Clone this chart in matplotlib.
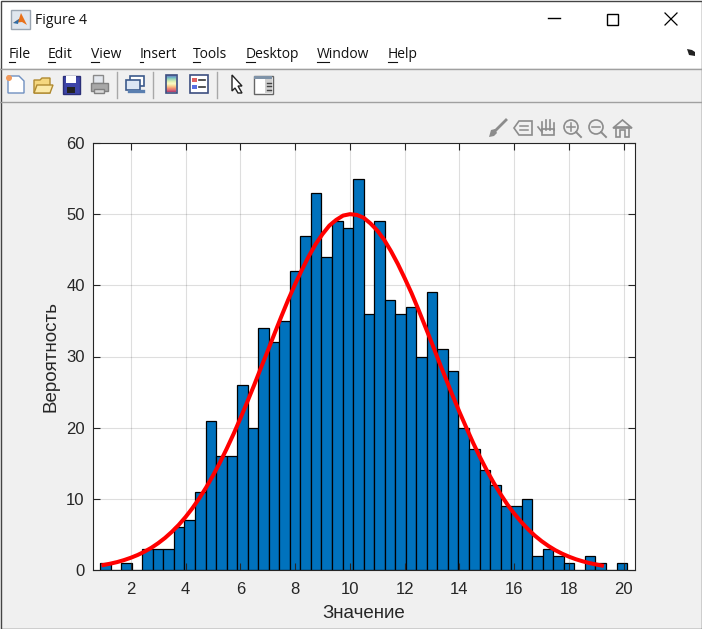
import numpy as np
import matplotlib
matplotlib.use("Agg")
import matplotlib.pyplot as plt
from matplotlib.patches import Rectangle, Circle, Polygon

# histogram values
bar_counts = [1, 0, 1, 0, 3, 3, 3, 6, 7, 11, 21, 16, 16, 26, 20, 34, 32, 35, 42, 47,
              53, 44, 49, 48, 55, 36, 49, 38, 36, 37, 30, 39, 31, 28, 20, 17, 14, 12, 9, 9,
              10, 2, 3, 2, 1, 0, 2, 1, 0, 1]
bin_start = 0.88
bin_width = 0.3848

curve_x = [1, 1.25, 1.5, 1.75, 2, 2.25, 2.5, 2.75, 3, 3.25, 3.5, 3.75, 4, 4.25, 4.5, 4.75,
           5, 5.25, 5.5, 5.75, 6, 6.25, 6.5, 6.75, 7, 7.25, 7.5, 7.75, 8, 8.25, 8.5, 8.75,
           9, 9.25, 9.5, 9.75, 10, 10.25, 10.5, 10.75, 11, 11.25, 11.5, 11.75, 12, 12.25,
           12.5, 12.75, 13, 13.25, 13.5, 13.75, 14, 14.25, 14.5, 14.75, 15, 15.25, 15.5,
           15.75, 16, 16.25, 16.5, 16.75, 17, 17.25, 17.5, 17.75, 18, 18.25, 18.5, 18.75,
           19, 19.2]
curve_y = [0.7, 0.89, 1.11, 1.39, 1.72, 2.11, 2.58, 3.12, 3.77, 4.51, 5.37, 6.34, 7.45, 8.69,
           10.07, 11.6, 13.27, 15.07, 17.03, 19.1, 21.3, 23.6, 25.95, 28.4, 30.8, 33.25,
           35.66, 38.0, 40.17, 42.2, 44.1, 45.8, 47.2, 48.4, 49.2, 49.8, 50.0, 49.9, 49.5,
           48.7, 47.7, 46.4, 44.8, 43.0, 41.0, 38.9, 36.6, 34.2, 31.8, 29.3, 26.9, 24.5,
           22.2, 20.0, 17.85, 15.85, 13.98, 12.25, 10.66, 9.2, 7.92, 6.77, 5.74, 4.83, 4.05,
           3.37, 2.78, 2.29, 1.87, 1.51, 1.22, 0.97, 0.77, 0.62]

x_ticks = [2, 4, 6, 8, 10, 12, 14, 16, 18, 20]
y_ticks = [0, 10, 20, 30, 40, 50, 60]

menu_items = ["File", "Edit", "View", "Insert", "Tools", "Desktop", "Window", "Help"]
menu_x = [9, 48, 91, 140, 193, 246, 317, 388]
menu_under = [6, 7, 8, 3, 7, 9, 12, 9]

W, H = 702, 629
GREY = "#f0f0f0"
fig = plt.figure(figsize=(W / 100, H / 100), dpi=100, facecolor=GREY)


def box(px0, py0, px1, py1):
    return [px0 / W, 1 - py1 / H, (px1 - px0) / W, (py1 - py0) / H]


# window chrome in pixel coordinates
ui = fig.add_axes([0, 0, 1, 1], zorder=0)
ui.set_xlim(0, W)
ui.set_ylim(H, 0)
ui.axis("off")
ui.add_patch(Rectangle((0, 0), W, 68, fc="white", ec="none"))
ui.plot([0, W], [68.5, 68.5], color="#a0a0a0", lw=1)
ui.plot([0, W], [101.5, 101.5], color="#a0a0a0", lw=1)
ui.add_patch(Rectangle((0.5, 0.5), W - 1, H - 1, fc="none", ec="#444444", lw=1))

ui_font = ["Open Sans", "DejaVu Sans"]
ui.text(35, 20, "Figure 4", fontsize=10, family=ui_font, va="center", color="#111111")
for name, mx, mu in zip(menu_items, menu_x, menu_under):
    ui.text(mx, 54, name, fontsize=10, family=ui_font, va="center", color="#111111")
    ui.plot([mx, mx + mu], [61.5, 61.5], color="#111111", lw=0.8)

# title bar buttons
ui.plot([548, 560], [18, 18], color="black", lw=1)
ui.add_patch(Rectangle((606.5, 13.5), 11, 11, fc="none", ec="black", lw=1))
ui.plot([665, 677], [13, 25], color="black", lw=0.9)
ui.plot([665, 677], [25, 13], color="black", lw=0.9)
ui.add_patch(Polygon([[687, 49], [692, 50], [695, 52], [695, 56], [689, 55]], fc="#222222", ec="none"))

# matlab icon
ui.add_patch(Rectangle((10.5, 9.5), 19, 19, fc="#dfe6ee", ec="#9aa5b1", lw=1))
ui.add_patch(Polygon([[13, 23], [19, 19], [21, 13], [27, 25], [22, 22]], fc="#e8711a", ec="none"))
ui.add_patch(Polygon([[13, 23], [19, 19], [18, 24]], fc="#2f6ea8", ec="none"))

# toolbar icons
ui.add_patch(Polygon([[8, 76], [19, 76], [24, 81], [24, 93], [8, 93]], fc="white", ec="#6f8fc0", lw=1))
ui.add_patch(Circle((9, 78), 3, fc="#f29a5c", ec="none"))
ui.add_patch(Polygon([[34, 80], [40, 80], [42, 78], [50, 78], [50, 93], [34, 93]], fc="#f5d77f", ec="#b08a30", lw=1))
ui.add_patch(Polygon([[34, 93], [37, 85], [53, 85], [50, 93]], fc="#fbe9a8", ec="#b08a30", lw=1))
ui.add_patch(Rectangle((62.5, 75.5), 17, 18, fc="#3d44a8", ec="#2b2f78", lw=1))
ui.add_patch(Rectangle((66, 76), 10, 7, fc="white", ec="none"))
ui.add_patch(Rectangle((67, 87), 8, 6, fc="#222222", ec="none"))
ui.add_patch(Rectangle((93, 75), 10, 8, fc="#e4e8ee", ec="#8a8a8a", lw=1))
ui.add_patch(Rectangle((90.5, 82.5), 17, 8, fc="#a8a8a8", ec="#808080", lw=1))
ui.add_patch(Rectangle((94, 89), 10, 4, fc="#d8d8d8", ec="#808080", lw=1))
for sx in [116.5, 152.5, 216.5]:
    ui.plot([sx, sx], [72, 98], color="#a8a8a8", lw=1)
ui.add_patch(Rectangle((129.5, 75.5), 14, 10, fc="white", ec="#3c5a8c", lw=1.2))
ui.add_patch(Rectangle((125.5, 79.5), 14, 10, fc="#dce6f4", ec="#3c5a8c", lw=1.2))
ui.plot([129, 143], [91, 91], color="#5a7fb0", lw=2.4)
grad = np.linspace(0, 1, 32).reshape(-1, 1)
ui.imshow(grad, extent=(166, 176, 92, 75), cmap="Spectral_r", aspect="auto", alpha=0.75, zorder=2)
ui.set_xlim(0, W)
ui.set_ylim(H, 0)
ui.add_patch(Rectangle((165.5, 74.5), 11, 18, fc="none", ec="#3d4f80", lw=1.2, zorder=3))
ui.add_patch(Rectangle((189.5, 74.5), 18, 18, fc="white", ec="#3d4f80", lw=1.2))
ui.add_patch(Rectangle((192, 78), 5, 4, fc="#e06060", ec="none"))
ui.add_patch(Rectangle((192, 85), 5, 4, fc="#5a6fe0", ec="none"))
ui.plot([199, 205], [80, 80], color="#333333", lw=1.2)
ui.plot([199, 205], [87, 87], color="#333333", lw=1.2)
ui.add_patch(Polygon([[232, 75], [242, 86], [238, 86], [242, 93], [238, 93], [235, 88], [232, 91]],
                     fc="white", ec="#222222", lw=1))
ui.add_patch(Rectangle((253.5, 75.5), 19, 18, fc="white", ec="#666666", lw=1))
ui.add_patch(Rectangle((254, 76), 18, 3, fc="#7f93a8", ec="none"))
ui.add_patch(Rectangle((265, 79), 7, 14, fc="#cfcfcf", ec="none"))
for ly in [82.5, 86, 89.5]:
    ui.plot([267, 271], [ly, ly], color="#444444", lw=1)

# axes toolbar icons
ICON = "#8c8c8c"
ui.plot([496, 506], [130, 120], color=ICON, lw=2.0)
ui.add_patch(Polygon([[489, 137], [491, 130], [495, 129], [497, 133], [494, 136]], fc=ICON, ec="none"))
ui.add_patch(Polygon([[519, 121], [532, 121], [532, 135], [519, 135], [514, 128]], fc="none", ec=ICON, lw=1.2))
ui.plot([520, 528], [126, 126], color=ICON, lw=1.1)
ui.plot([520, 528], [130, 130], color=ICON, lw=1.1)
for hx, htop in zip([542, 546, 550, 554], [122, 120, 120, 123]):
    ui.plot([hx, hx], [htop, 130], color=ICON, lw=1.2)
ui.add_patch(Rectangle((542, 129), 12, 6, fc="none", ec=ICON, lw=1.2))
ui.plot([538, 542], [127, 132], color=ICON, lw=1.2)
for cx, plus in zip([571, 596], [True, False]):
    ui.add_patch(Circle((cx, 127), 7, fc="none", ec=ICON, lw=1.2))
    ui.plot([cx + 5, cx + 10], [132, 137], color=ICON, lw=1.4)
    ui.plot([cx - 4, cx + 4], [127, 127], color=ICON, lw=1.1)
    if plus:
        ui.plot([cx, cx], [123, 131], color=ICON, lw=1.1)
ui.add_patch(Polygon([[613, 128], [622.5, 120], [632, 128]], fc="none", ec=ICON, lw=1.2))
ui.add_patch(Polygon([[616, 127], [616, 137], [620, 137], [620, 130], [625, 130], [625, 137], [629, 137], [629, 127]],
                     fc="none", ec=ICON, lw=1.2))

# plot
ax = fig.add_axes(box(93, 143, 634.5, 570), zorder=1, facecolor="white")
edges = bin_start + bin_width * np.arange(len(bar_counts))
ax.bar(edges, bar_counts, width=bin_width, align="edge", color="#0072bd", edgecolor="black", linewidth=0.9, zorder=2)
ax.plot(curve_x, curve_y, color="#ff0000", lw=2.9, solid_joinstyle="round", zorder=3)
ax.set_xlim(0.62, 20.39)
ax.set_ylim(0, 60)
ax.set_axisbelow(True)
ax.grid(True, color="black", alpha=0.13, linewidth=0.8)
ax.set_xticks(x_ticks)
ax.set_yticks(y_ticks)
ax.tick_params(axis="x", length=0, labelsize=12, labelcolor="#262626", pad=9)
ax.tick_params(axis="y", length=0, labelsize=12, labelcolor="#262626", pad=6)
plt.setp(ax.get_xticklabels() + ax.get_yticklabels(), family="Liberation Sans")
ax.set_xlabel("Значение", fontsize=13.5, family="Liberation Sans", color="#262626", labelpad=5.5)
ax.set_ylabel("Вероятность", fontsize=13.5, family="Liberation Sans", color="#262626", labelpad=5)
for s in ax.spines.values():
    s.set_visible(False)

# ticks and box sit in front of the bars, grid stays behind
front = fig.add_axes(ax.get_position(), sharex=ax, sharey=ax, zorder=2, facecolor="none")
front.tick_params(direction="in", length=5, width=0.8, color="#262626", top=True, right=True,
                  labelbottom=False, labelleft=False)
for s in front.spines.values():
    s.set_color("#262626")
    s.set_linewidth(0.8)

fig.savefig("out.png", dpi=100, facecolor=GREY)
